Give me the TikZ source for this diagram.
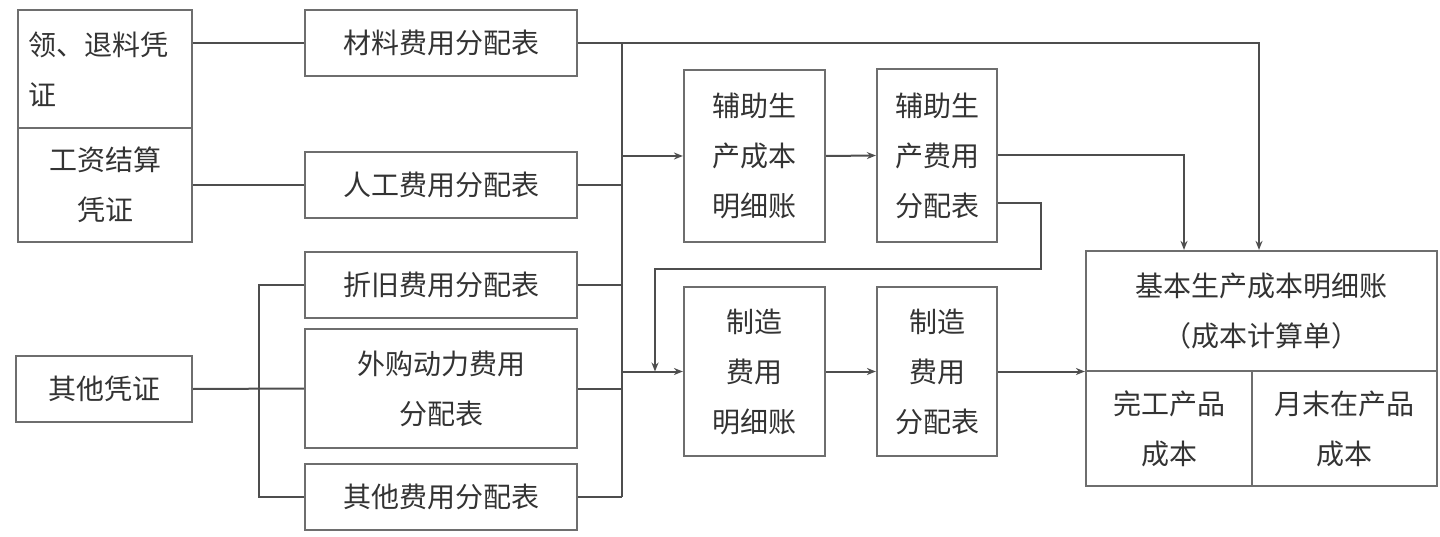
\documentclass[tikz,border=0pt]{standalone}
\usepackage{fontspec}
\setmainfont{Noto Sans CJK SC}
\usetikzlibrary{arrows.meta,calc}
\definecolor{boxc}{HTML}{6E6E6E}
\definecolor{linec}{HTML}{4E4E4E}
\definecolor{txtc}{HTML}{333333}
\begin{document}
\begin{tikzpicture}[x=1pt,y=-1pt,
  bx/.style={draw=boxc,line width=2.2pt,inner sep=0pt,align=center,text=txtc,
    font=\fontsize{28}{50}\selectfont},
  conn/.style={draw=linec,line width=2pt},
  arr/.style={conn,-{Stealth[length=9pt,width=7pt]}}]
\useasboundingbox (0,0) rectangle (1440,537);
% left source boxes
\node[bx,minimum width=174pt,minimum height=118pt,text width=154pt,align=left] (A) at (105,69) {领、退料凭\\证};
\node[bx,minimum width=174pt,minimum height=114pt] (B) at (105,185) {工资结算\\凭证};
\node[bx,minimum width=176pt,minimum height=66pt] (C) at (104,389) {其他凭证};
% allocation tables
\node[bx,minimum width=272pt,minimum height=66pt] (M) at (441,43) {材料费用分配表};
\node[bx,minimum width=272pt,minimum height=66pt] (R) at (441,185) {人工费用分配表};
\node[bx,minimum width=272pt,minimum height=66pt] (Z) at (441,285) {折旧费用分配表};
\node[bx,minimum width=272pt,minimum height=119pt] (W) at (441,388.5) {外购动力费用\\分配表};
\node[bx,minimum width=272pt,minimum height=66pt] (Q) at (441,497) {其他费用分配表};
% middle
\node[bx,minimum width=141pt,minimum height=172pt] (F1) at (754.5,156) {辅助生\\产成本\\明细账};
\node[bx,minimum width=120pt,minimum height=173pt] (F2) at (937,155.5) {辅助生\\产费用\\分配表};
\node[bx,minimum width=141pt,minimum height=169pt] (G1) at (754.5,371.5) {制造\\费用\\明细账};
\node[bx,minimum width=120pt,minimum height=169pt] (G2) at (937,371.5) {制造\\费用\\分配表};
% right
\node[bx,minimum width=351pt,minimum height=120pt] (J) at (1261.5,311) {基本生产成本明细账\\（成本计算单）};
\node[bx,minimum width=166pt,minimum height=115pt] (K1) at (1169,428.5) {完工产品\\成本};
\node[bx,minimum width=185pt,minimum height=115pt] (K2) at (1344.5,428.5) {月末在产品\\成本};
% helper coordinates
\coordinate (lb) at (259,0);
\coordinate (rb) at (622,0);
\coordinate (jm) at (1259,0);
\coordinate (ja) at (1184,0);
\coordinate (fbx) at (655,0);
\coordinate (f2lo) at ($(F2.east)+(0,47.5)$);
\coordinate (fbr) at ($(f2lo)+(43,66)$);
% connectors left
\draw[conn] (M.west -| A.east) -- (M.west);
\draw[conn] (B.east) -- (R.west);
\draw[conn] (C.east) -- (W.west);
\draw[conn] (Z.west) -| (Q.west -| lb) -- (Q.west);
% right bus
\draw[conn] (M.east -| rb) -- (Q.east -| rb);
\draw[conn] (R.east) -- (R.east -| rb);
\draw[conn] (Z.east) -- (Z.east -| rb);
\draw[conn] (W.east) -- (W.east -| rb);
\draw[conn] (Q.east) -- (Q.east -| rb);
\draw[arr] (M.east) -| (J.north -| jm);
\draw[arr] (F1.west -| rb) -- (F1.west);
\draw[arr] (G1.west -| rb) -- (G1.west);
\draw[arr] (F1.east) -- (F2.west);
\draw[arr] (G1.east) -- (G2.west);
\draw[arr] (F2.east) -| (J.north -| ja);
\draw[arr] (f2lo) -| (fbr) -| (G1.west -| fbx);
\draw[arr] (G2.east) -- (G2.east -| J.west);
\end{tikzpicture}
\end{document}
